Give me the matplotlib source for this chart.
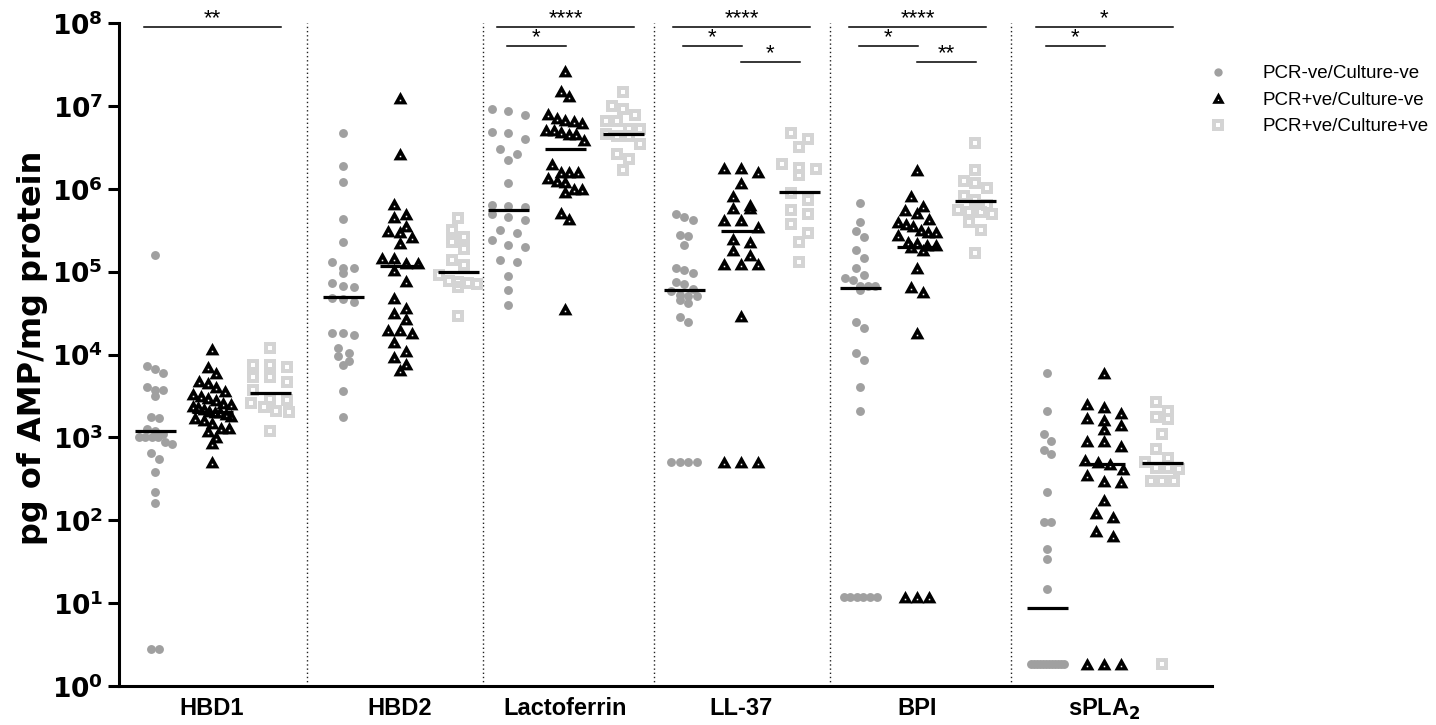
import numpy as np
import matplotlib.pyplot as plt
from matplotlib.path import Path
from matplotlib.lines import Line2D

plt.rcParams['font.family'] = ['Liberation Sans', 'DejaVu Sans']
plt.rcParams['mathtext.fontset'] = 'dejavusans'

GROUPS = ['HBD1', 'HBD2', 'Lactoferrin', 'LL-37', 'BPI', r'sPLA$_\mathbf{2}$']
SERIES = ['PCR-ve/Culture-ve', 'PCR+ve/Culture-ve', 'PCR+ve/Culture+ve']

# pg of AMP / mg protein
hbd1_nn = [1.6e5, 7.2e3, 6.6e3, 6.0e3, 4.1e3, 3.7e3, 3.7e3, 3.2e3, 1.75e3, 1.7e3, 1.25e3, 1.2e3, 1.1e3,
           1.0e3, 1.0e3, 1.0e3, 1.0e3, 870, 830, 640, 550, 380, 220, 160, 2.8, 2.8]
hbd1_pn = [1.15e4, 7.0e3, 6.0e3, 4.8e3, 4.5e3, 4.0e3, 3.6e3, 3.3e3, 3.2e3, 3.0e3, 2.8e3, 2.6e3, 2.5e3,
           2.4e3, 2.3e3, 2.2e3, 2.1e3, 2.0e3, 2.0e3, 1.9e3, 1.8e3, 1.7e3, 1.6e3, 1.5e3, 1.3e3, 1.3e3,
           1.2e3, 1.0e3, 850, 500]
hbd1_pp = [1.2e4, 7.4e3, 7.1e3, 7.4e3, 5.4e3, 5.4e3, 4.7e3, 3.7e3, 2.9e3, 2.8e3, 2.6e3, 2.3e3, 2.1e3,
           2.0e3, 1.2e3]

hbd2_nn = [4.7e6, 1.9e6, 1.2e6, 4.3e5, 2.3e5, 1.3e5, 1.1e5, 1.1e5, 9.5e4, 7.2e4, 6.8e4, 6.5e4, 4.8e4,
           4.7e4, 4.3e4, 1.8e4, 1.8e4, 1.7e4, 1.2e4, 1.05e4, 9.5e3, 8.3e3, 7.4e3, 3.6e3, 1.75e3]
hbd2_pn = [1.24e7, 2.6e6, 6.6e5, 4.9e5, 4.6e5, 3.6e5, 3.1e5, 3.0e5, 2.6e5, 2.2e5, 1.45e5, 1.45e5,
           1.26e5, 1.26e5, 1.05e5, 7.8e4, 4.8e4, 3.6e4, 3.2e4, 2.7e4, 2.0e4, 1.95e4, 1.8e4, 1.4e4,
           1.1e4, 9.3e3, 7.6e3, 6.5e3]
hbd2_pp = [4.4e5, 3.2e5, 2.6e5, 2.3e5, 1.9e5, 1.4e5, 1.2e5, 9.0e4, 7.8e4, 7.5e4, 7.2e4, 7.0e4, 6.5e4,
           2.9e4]

lacto_nn = [9.1e6, 8.7e6, 7.8e6, 4.8e6, 4.7e6, 4.0e6, 3.0e6, 2.6e6, 2.2e6, 1.17e6, 6.3e5, 6.2e5, 6.0e5,
            4.9e5, 4.6e5, 4.2e5, 3.2e5, 2.9e5, 2.4e5, 2.1e5, 2.0e5, 1.4e5, 1.3e5, 8.9e4, 6.0e4, 4.0e4]
lacto_pn = [2.6e7, 1.5e7, 1.3e7, 7.9e6, 7.1e6, 6.8e6, 6.6e6, 6.2e6, 5.1e6, 5.1e6, 4.8e6, 4.6e6, 4.6e6,
            3.9e6, 2.0e6, 1.6e6, 1.6e6, 1.6e6, 1.35e6, 1.23e6, 1.2e6, 1.0e6, 1.0e6, 9.1e5, 5.1e5,
            4.3e5, 3.5e4]
lacto_pp = [1.47e7, 1.0e7, 9.1e6, 7.8e6, 6.6e6, 6.6e6, 5.2e6, 5.2e6, 4.6e6, 4.3e6, 4.3e6, 3.5e6, 2.6e6,
            2.3e6, 1.7e6]

ll37_nn = [4.9e5, 4.6e5, 4.2e5, 2.8e5, 2.7e5, 2.1e5, 1.12e5, 1.05e5, 9.5e4, 7.4e4, 7.1e4, 6.2e4, 5.8e4,
           5.2e4, 5.1e4, 5.1e4, 4.6e4, 4.2e4, 2.8e4, 2.5e4, 500, 500, 500, 500]
ll37_pn = [1.8e6, 1.8e6, 1.6e6, 1.17e6, 8.1e5, 6.3e5, 5.9e5, 5.9e5, 4.2e5, 4.2e5, 3.5e5, 2.5e5, 2.3e5,
           1.8e5, 1.6e5, 1.23e5, 1.23e5, 1.23e5, 2.9e4, 500, 500, 500]
ll37_pp = [4.7e6, 4.0e6, 3.2e6, 2.0e6, 1.8e6, 1.74e6, 1.45e6, 8.9e5, 7.4e5, 5.6e5, 5.0e5, 3.8e5, 2.9e5,
           2.3e5, 1.3e5]

bpi_nn = [6.8e5, 4.0e5, 3.1e5, 2.6e5, 1.8e5, 1.45e5, 1.1e5, 9.1e4, 8.3e4, 7.9e4, 6.8e4, 6.8e4, 6.8e4,
          6.0e4, 2.5e4, 2.1e4, 1.05e4, 8.7e3, 4.1e3, 2.1e3, 12, 12, 12, 12, 12, 12]
bpi_pn = [1.7e6, 8.1e5, 6.2e5, 5.5e5, 5.1e5, 4.3e5, 4.0e5, 3.8e5, 3.6e5, 3.2e5, 3.0e5, 3.0e5, 2.8e5,
          2.3e5, 2.2e5, 2.1e5, 2.1e5, 2.0e5, 1.8e5, 1.1e5, 6.5e4, 5.6e4, 1.8e4, 12, 12, 12]
bpi_pp = [3.6e6, 1.7e6, 1.23e6, 1.17e6, 1.02e6, 8.1e5, 7.4e5, 6.3e5, 5.5e5, 5.2e5, 5.2e5, 4.9e5, 4.0e5,
          3.2e5, 1.7e5]

spla2_nn = [6.0e3, 2.1e3, 1.1e3, 910, 710, 630, 220, 95, 95, 45, 34, 15,
            1.85, 1.85, 1.85, 1.85, 1.85, 1.85, 1.85, 1.85, 1.85, 1.85, 1.85, 1.85]
spla2_pn = [6.0e3, 2.5e3, 2.3e3, 1.95e3, 1.7e3, 1.6e3, 1.4e3, 1.25e3, 910, 910, 790, 540, 510, 480,
            410, 355, 295, 290, 175, 123, 110, 74, 65, 1.85, 1.85, 1.85]
spla2_pp = [2.7e3, 2.1e3, 1.75e3, 1.65e3, 1.1e3, 720, 560, 500, 430, 430, 420, 300, 295, 295, 1.85]

# medians drawn in the figure
med_nn = [1.2e3, 4.9e4, 5.5e5, 6.0e4, 6.3e4, 8.7]
med_pn = [2.0e3, 1.16e5, 3.0e6, 3.1e5, 2.0e5, 480]
med_pp = [3.4e3, 1.0e5, 4.6e6, 9.1e5, 7.2e5, 490]

# significance: (group, first column, second column, level, stars)
sig_bars = [
    (0, 0, 2, 0, '**'),
    (2, 0, 2, 0, '****'), (2, 0, 1, 1, '*'),
    (3, 0, 2, 0, '****'), (3, 0, 1, 1, '*'), (3, 1, 2, 2, '*'),
    (4, 0, 2, 0, '****'), (4, 0, 1, 1, '*'), (4, 1, 2, 2, '**'),
    (5, 0, 2, 0, '*'), (5, 0, 1, 1, '*'),
]
bar_levels = [10 ** 7.95, 10 ** 7.72, 10 ** 7.53]

nn = [hbd1_nn, hbd2_nn, lacto_nn, ll37_nn, bpi_nn, spla2_nn]
pn = [hbd1_pn, hbd2_pn, lacto_pn, ll37_pn, bpi_pn, spla2_pn]
pp = [hbd1_pp, hbd2_pp, lacto_pp, ll37_pp, bpi_pp, spla2_pp]

# ---- layout (x axis in pixels from the y axis) ----
W, H = 1436, 725
DEC = 82.9                      # pixels per decade
group_x = [93, 281, 446, 622, 798, 985]
col_off = [-57, 0, 58]
steps = [[8.3, 11, 17, 8.5, 7.5, 7],
         [8.5, 12, 8.5, 17, 12, 17],
         [17, 11.5, 11.5, 17, 11.5, 11.5]]
max_span = [33, 38, 38]
row_tol = [8, 11, 11]


def make_marker(outer, hole):
    verts = list(outer) + [outer[0]] + list(hole) + [hole[0]]
    codes = ([Path.MOVETO] + [Path.LINETO] * (len(outer) - 1) + [Path.CLOSEPOLY] +
             [Path.MOVETO] + [Path.LINETO] * (len(hole) - 1) + [Path.CLOSEPOLY])
    return Path(verts, codes)


h = 0.11
tri = make_marker([(-1, -0.85), (1, -0.85), (0, 0.95)],
                  [(-h, -0.40), (-h, -0.40 + 2 * h), (h, -0.40 + 2 * h), (h, -0.40)])
h = 0.3
sq = make_marker([(-1, -1), (1, -1), (1, 1), (-1, 1)],
                 [(-h, -h), (-h, h), (h, h), (h, -h)])

markers = ['o', tri, sq]
colors = ['#a0a0a0', 'black', '#d4d4d4']
sizes = [6.4, 10.0, 8.5]


def spread(values, step, tol, span):
    logs = np.log10(np.asarray(values, float)) * DEC
    order = np.argsort(-logs, kind='stable')
    offs = np.zeros(len(logs))
    i = 0
    while i < len(order):
        j = i + 1
        while j < len(order) and logs[order[i]] - logs[order[j]] < tol:
            j += 1
        n = j - i
        s = step if n < 2 else min(step, span / (n - 1))
        for k in range(n):
            offs[order[i + k]] = (k - (n - 1) / 2) * s
        i = j
    return offs


fig = plt.figure(figsize=(W / 100, H / 100), dpi=100)
ax = fig.add_axes([119 / W, 39 / H, 1093 / W, 663 / H])
ax.set_yscale('log')
ax.set_ylim(1, 1e8)
ax.set_xlim(0, 1093)

for s, series in enumerate([nn, pn, pp]):
    for g, vals in enumerate(series):
        xs = group_x[g] + col_off[s] + spread(vals, steps[s][g], row_tol[s], max_span[s])
        ax.scatter(xs, vals, marker=markers[s], s=sizes[s] ** 2, c=colors[s],
                   linewidths=0, zorder=3, clip_on=False)

for s, meds in enumerate([med_nn, med_pn, med_pp]):
    for g, m in enumerate(meds):
        xc = group_x[g] + col_off[s]
        ax.hlines(m, xc - 20.5, xc + 20.5, colors='black', lw=2.3, zorder=4)

# dotted separators between groups
for g in range(len(group_x) - 1):
    xsep = (group_x[g] + col_off[2] + group_x[g + 1] + col_off[0]) / 2
    ax.plot([xsep, xsep], [1, 1e8], color='#222222', lw=1.0, ls=(0, (1, 2)), zorder=1)

for g, a, b, lev, stars in sig_bars:
    mid = group_x[g] + (col_off[a] + col_off[b]) / 2
    half = 68.5 if b - a == 2 else 29.5
    y = bar_levels[lev]
    ax.plot([mid - half, mid + half], [y, y], color='black', lw=1.1, clip_on=False)
    ax.annotate(stars, (mid, y), xytext=(0, 2.2), textcoords='offset points',
                ha='center', va='baseline', fontsize=16)

ax.set_yticks([10 ** k for k in range(9)])
ax.set_yticklabels([r'$\mathbf{10^{%d}}$' % k for k in range(9)])
ax.yaxis.set_minor_locator(plt.NullLocator())
ax.tick_params(axis='y', length=8, width=2.2, labelsize=19, pad=3.5)
ax.set_xticks(group_x)
ax.set_xticklabels(GROUPS, fontweight='bold', fontsize=17)
ax.tick_params(axis='x', length=0, pad=8)
for side in ['top', 'right']:
    ax.spines[side].set_visible(False)
for side in ['left', 'bottom']:
    ax.spines[side].set_linewidth(2.2)

fig.text(33 / W, 1 - 348 / H, 'pg of AMP/mg protein', rotation=90, ha='center', va='center',
         fontsize=23, fontweight='bold', family='DejaVu Sans')

handles = [Line2D([], [], marker=markers[i], color=colors[i], ls='none', mew=0,
                  markersize=[6.0, 9.0, 8.0][i]) for i in range(3)]
fig.legend(handles, SERIES, loc='upper left', bbox_to_anchor=(1208.6 / W, 1 - 65 / H),
           frameon=False, fontsize=13.5, handlelength=1.0, handletextpad=1.85,
           labelspacing=0.5, borderpad=0, borderaxespad=0)

fig.savefig('out.png', dpi=100)
